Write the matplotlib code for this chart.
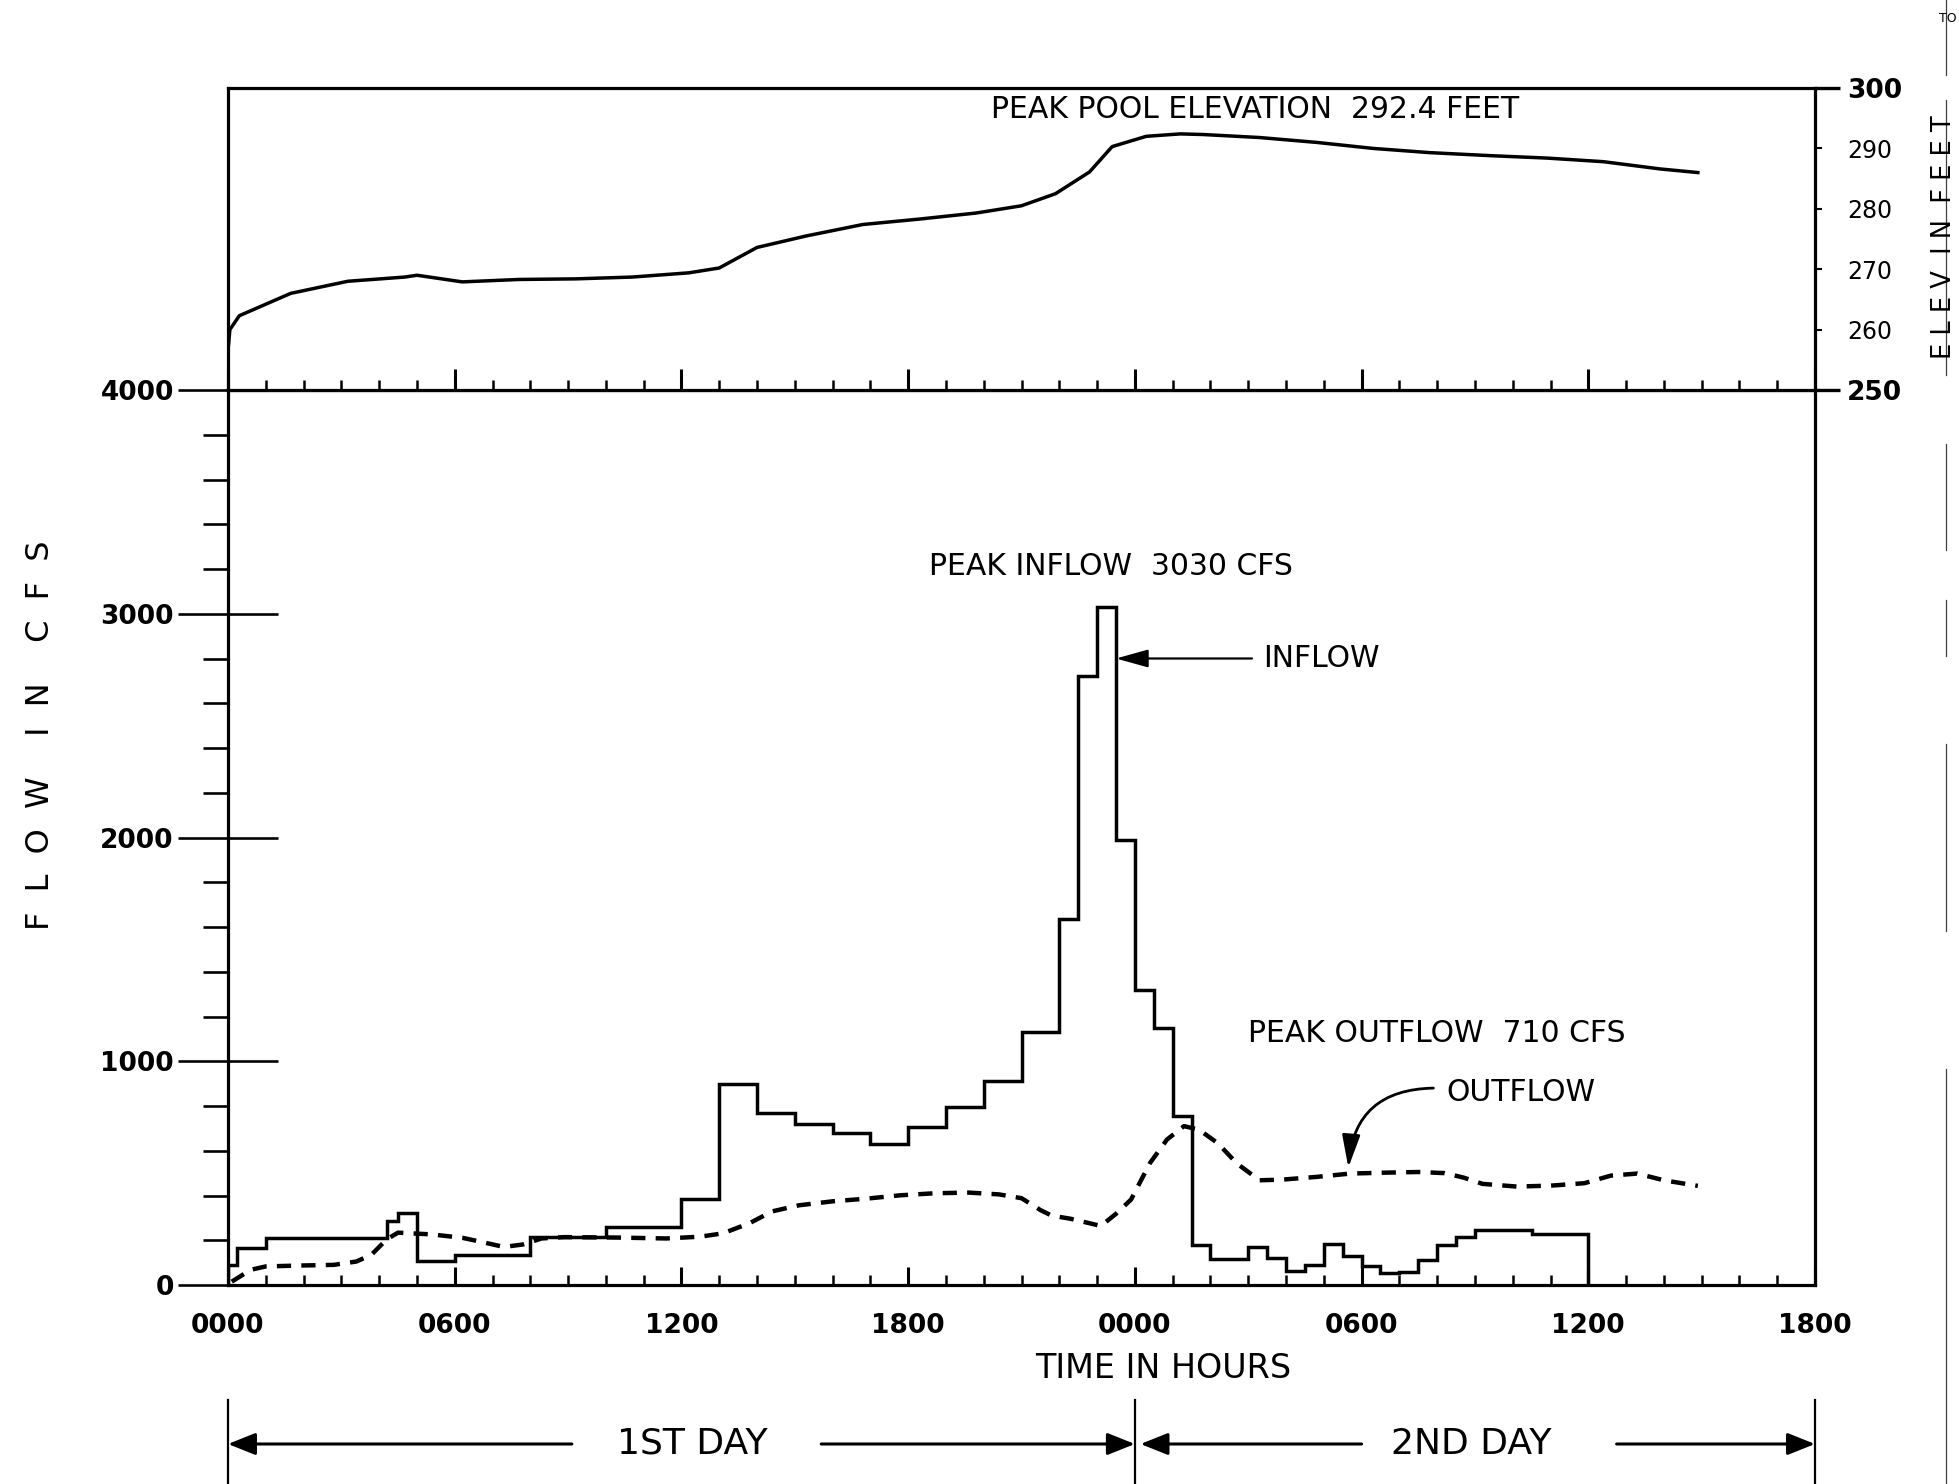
import matplotlib
matplotlib.use("Agg")
import matplotlib.pyplot as plt
from matplotlib.lines import Line2D
from matplotlib.ticker import MultipleLocator, FixedLocator, FixedFormatter
from matplotlib.transforms import blended_transform_factory

# ---------------------------------------------------------------------------
# Reservoir routing data (time in hours from 0000 of the first day)
# ---------------------------------------------------------------------------
# Inflow hydrograph, step values (cfs) between consecutive interval edges
inflow_edges = [0, 0.25, 1, 4.2, 4.5, 5, 6, 8, 10, 12, 13, 14, 15, 16, 17, 18,
                19, 20, 21, 22, 22.5, 23, 23.5, 24, 24.5, 25, 25.5, 26, 27,
                27.5, 28, 28.5, 29, 29.5, 30, 30.5, 31, 31.5, 32, 32.5, 33,
                34.5, 36]
inflow_cfs = [90, 166, 212, 287, 324, 106, 133, 215, 260, 385, 900, 770, 720,
              680, 630, 705, 795, 910, 1130, 1635, 2720, 3030, 1990, 1320,
              1150, 755, 180, 115, 169, 121, 63, 90, 184, 128, 83, 53, 60,
              113, 178, 216, 248, 226]

# Routed outflow (cfs)
outflow_hours = [0.1, 0.6, 1.0, 1.9, 2.8, 3.4, 3.8, 4.2, 4.5, 5.4, 6.2, 6.7,
                 7.3, 7.8, 8.3, 8.9, 10.3, 11.6, 12.5, 13.1, 13.8, 14.4, 15.1,
                 16.0, 16.9, 17.8, 18.7, 19.6, 20.4, 21.0, 21.5, 21.8, 22.3,
                 23.1, 23.5, 23.9, 24.4, 24.85, 25.3, 25.7, 26.2, 26.7, 27.3,
                 27.9, 28.8, 29.7, 30.6, 31.5, 32.2, 32.7, 33.2, 34.1, 35.0,
                 35.9, 36.6, 37.3, 38.0, 38.9]
outflow_cfs = [15, 68, 83, 87, 90, 105, 136, 204, 234, 226, 211, 193, 170,
               181, 208, 214, 212, 208, 216, 231, 276, 329, 356, 374, 386, 401,
               410, 413, 405, 388, 335, 310, 296, 264, 318, 382, 545, 650, 710,
               694, 633, 543, 468, 471, 483, 498, 502, 505, 500, 480, 452, 440,
               444, 455, 489, 498, 468, 443]

# Pool elevation (feet)
elev_hours = [0, 0.05, 0.3, 1.66, 3.17, 4.68, 5.0, 6.2, 7.7, 9.2, 10.7, 12.2,
              13.0, 14.0, 15.3, 16.8, 18.3, 19.8, 21.0, 21.9, 22.8, 23.4,
              24.3, 25.2, 25.8, 27.3, 28.8, 30.3, 31.8, 33.4, 34.9, 36.4,
              37.9, 38.9]
elev_feet = [256.5, 260.0, 262.3, 266.0, 268.0, 268.7, 269.0, 267.9, 268.3,
             268.4, 268.7, 269.4, 270.2, 273.6, 275.5, 277.4, 278.3, 279.3,
             280.5, 282.5, 286.1, 290.3, 292.0, 292.4, 292.3, 291.8, 291.0,
             290.0, 289.3, 288.8, 288.4, 287.8, 286.6, 286.0]

hour_ticks = [0, 6, 12, 18, 24, 30, 36, 42]
hour_labels = ["0000", "0600", "1200", "1800", "0000", "0600", "1200", "1800"]
flow_ticks = [0, 1000, 2000, 3000, 4000]
flow_labels = ["0", "1000", "2000", "3000", "4000"]
elev_major = [250, 300]
elev_minor = [260, 270, 280, 290]

# ---------------------------------------------------------------------------
W, H = 1959, 1484
fig = plt.figure(figsize=(W / 100, H / 100), dpi=100)
fig.patch.set_facecolor("white")


def fx(px):
    return px / W


def fy(py):
    return 1 - py / H


LEFT, RIGHT = 228, 1815
Y_ZERO, Y_SPLIT, Y_TOP = 1285, 390, 88

ax = fig.add_axes([fx(LEFT), fy(Y_ZERO), (RIGHT - LEFT) / W, (Y_ZERO - Y_SPLIT) / H])
axe = fig.add_axes([fx(LEFT), fy(Y_SPLIT), (RIGHT - LEFT) / W, (Y_SPLIT - Y_TOP) / H])

for a in (ax, axe):
    a.set_xlim(0, 42)
    for s in a.spines.values():
        s.set_linewidth(2.3)
ax.set_ylim(0, 4000)
axe.set_ylim(250, 300)

# --- flow panel -------------------------------------------------------------
ax.stairs(inflow_cfs, inflow_edges, baseline=0, color="black", linewidth=2.5)
ax.plot(outflow_hours, outflow_cfs, color="black", linewidth=3.2,
        linestyle=(0, (3.2, 2.3)), dash_capstyle="butt")

ax.set_xticks(hour_ticks)
ax.set_xticklabels(hour_labels, fontsize=19, fontweight="bold")
ax.xaxis.set_minor_locator(MultipleLocator(1))
ax.tick_params(axis="x", which="major", direction="in", length=13, width=2.2, pad=20)
ax.tick_params(axis="x", which="minor", direction="in", length=7, width=1.8)

ax.set_yticks(flow_ticks)
ax.set_yticklabels(flow_labels, fontsize=19, fontweight="bold")
ax.yaxis.set_minor_locator(MultipleLocator(200))
ax.tick_params(axis="y", which="major", direction="inout", length=72, width=1.9, pad=3)
ax.tick_params(axis="y", which="minor", direction="out", length=18, width=1.9)

# --- elevation panel --------------------------------------------------------
axe.plot(elev_hours, elev_feet, color="black", linewidth=2.5)
axe.set_xticks(hour_ticks)
axe.xaxis.set_minor_locator(MultipleLocator(1))
axe.tick_params(axis="x", which="both", labelbottom=False)
axe.tick_params(axis="x", which="major", direction="in", length=15, width=2.2)
axe.tick_params(axis="x", which="minor", direction="in", length=7, width=1.8)

axe.yaxis.tick_right()
axe.yaxis.set_major_locator(FixedLocator(elev_major))
axe.yaxis.set_major_formatter(FixedFormatter([str(v) for v in elev_major]))
axe.yaxis.set_minor_locator(FixedLocator(elev_minor))
axe.yaxis.set_minor_formatter(FixedFormatter([str(v) for v in elev_minor]))
axe.tick_params(axis="y", which="major", direction="out", length=18, width=2.4, pad=5,
                labelsize=19)
axe.tick_params(axis="y", which="minor", direction="out", length=5, width=1.5, pad=18,
                labelsize=17)
for lab in axe.get_yticklabels():
    lab.set_fontweight("bold")

# --- annotations -----------------------------------------------------------
txt_kw = dict(fontsize=21.5, color="black")
axe.text(27.19, 296.4, "PEAK POOL ELEVATION  292.4 FEET", ha="center", va="center", **txt_kw)
ax.text(23.38, 3210, "PEAK INFLOW  3030 CFS", ha="center", va="center", **txt_kw)
ax.text(27.4, 2800, "INFLOW", ha="left", va="center", **txt_kw)
ax.text(31.98, 1125, "PEAK OUTFLOW  710 CFS", ha="center", va="center", **txt_kw)
ax.text(32.25, 860, "OUTFLOW", ha="left", va="center", **txt_kw)

ax.annotate("", xy=(23.5, 2800), xytext=(27.1, 2800),
            arrowprops=dict(arrowstyle="-|>,head_length=0.9,head_width=0.25",
                            mutation_scale=22, color="black", lw=1.6,
                            shrinkA=0, shrinkB=0))
ax.annotate("", xy=(29.65, 525), xytext=(31.9, 880),
            arrowprops=dict(arrowstyle="-|>,head_length=0.9,head_width=0.25",
                            mutation_scale=22, color="black", lw=2.0,
                            shrinkA=0, shrinkB=0,
                            connectionstyle="arc3,rad=0.45"))

fig.text(fx(41), fy(735), "F  L  O  W    I  N    C  F  S", rotation=90,
         ha="center", va="center", fontsize=23)
fig.text(fx(1944), fy(237), "E L E V  I N  F E E T", rotation=90,
         ha="center", va="center", fontsize=18.5)
fig.text(fx(1163), fy(1369), "TIME IN HOURS", ha="center", va="center", fontsize=24)

# --- day bar below the time axis ------------------------------------------
bar = blended_transform_factory(ax.transData, fig.transFigure)
y_bar = fy(1444)
for xd in (0, 24, 42):
    ax.add_line(Line2D([xd, xd], [fy(1400), 0], transform=bar, color="black",
                       lw=1.6, clip_on=False))
arrow_kw = dict(arrowstyle="-|>,head_length=0.7,head_width=0.28",
                mutation_scale=24, color="black", lw=2.2, shrinkA=0, shrinkB=0)
for start, end in ((9.1, 0), (15.7, 24), (30.0, 24.15), (36.75, 42)):
    ax.annotate("", xy=(end, y_bar), xytext=(start, y_bar), xycoords=bar,
                textcoords=bar, arrowprops=arrow_kw, annotation_clip=False)
ax.text(12.3, y_bar, "1ST DAY", transform=bar, ha="center", va="center", fontsize=26)
ax.text(32.9, y_bar, "2ND DAY", transform=bar, ha="center", va="center", fontsize=26)

# page edge line and margin note
for y0, y1 in ((0, 75), (100, 375), (444, 550), (600, 656), (744, 931), (1069, 1484)):
    fig.add_artist(Line2D([fx(1946), fx(1946)], [fy(y0), fy(y1)],
                          transform=fig.transFigure, color="0.25", lw=0.9))
fig.text(fx(1939), fy(18), "TO", ha="left", va="center", fontsize=9)

fig.savefig("out.png", dpi=100, facecolor="white")
